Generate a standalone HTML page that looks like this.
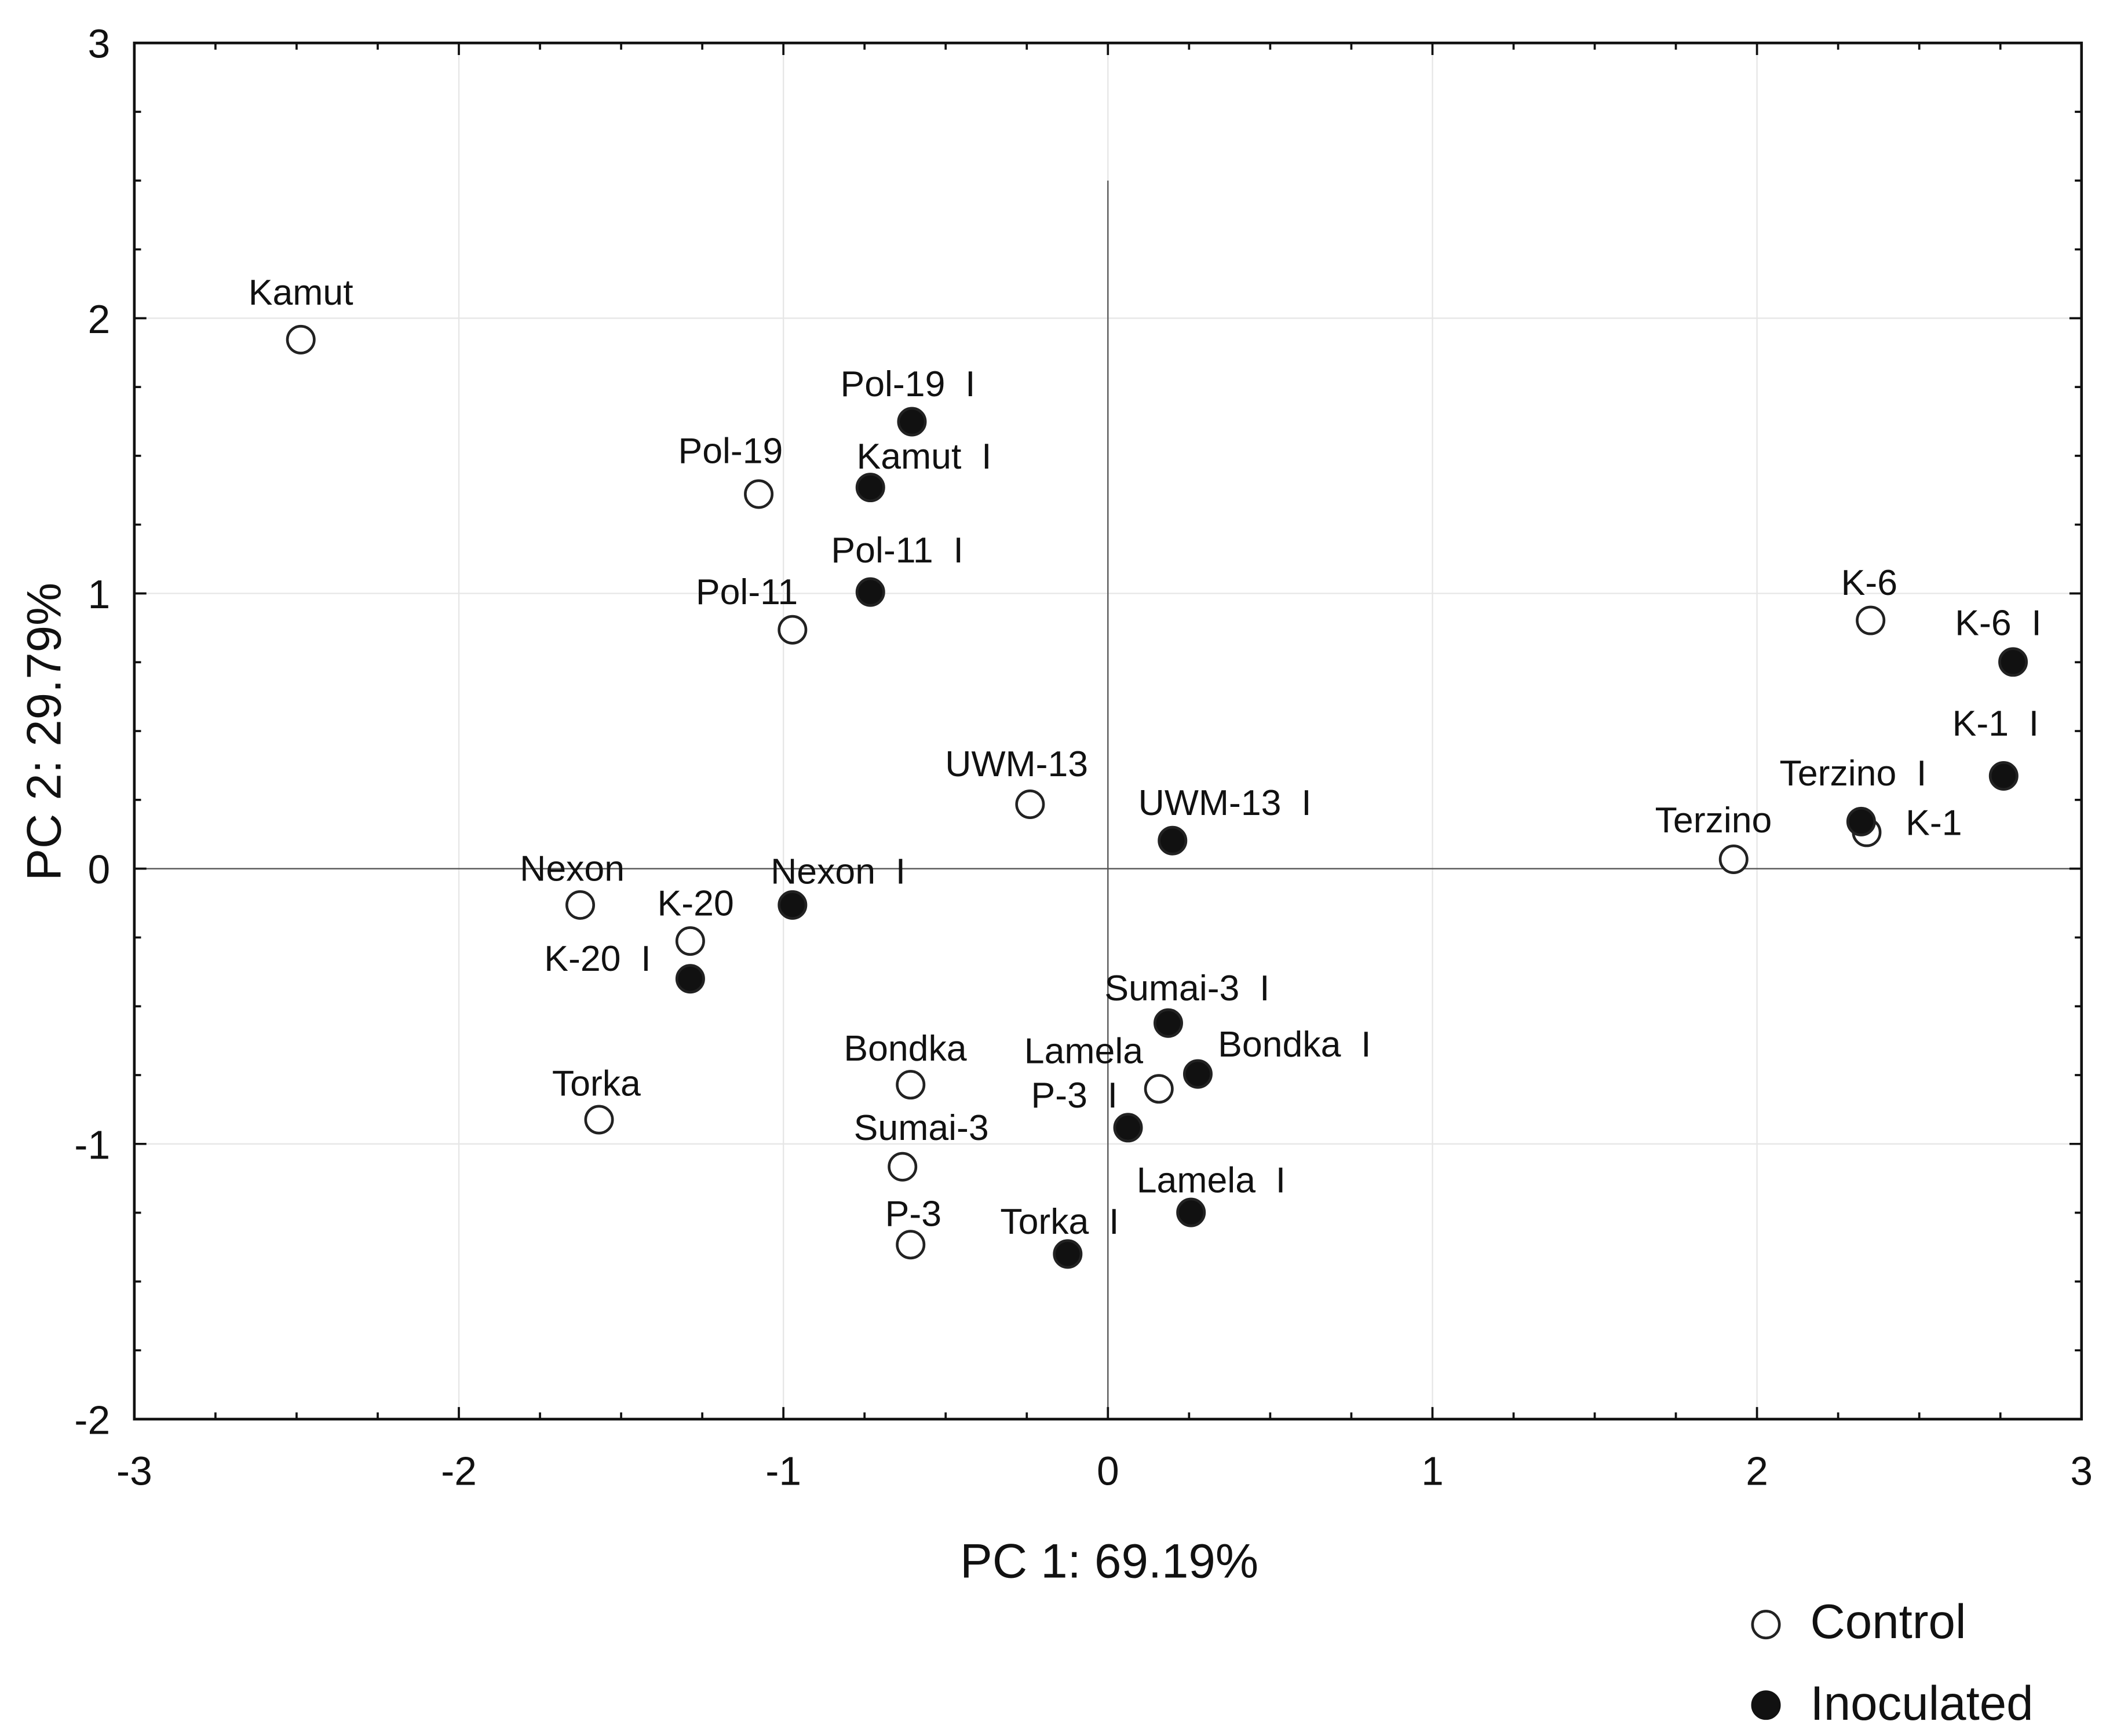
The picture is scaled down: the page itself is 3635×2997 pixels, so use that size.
<!DOCTYPE html>
<html><head><meta charset="utf-8"><style>
html,body{margin:0;padding:0;background:#fff;}
svg{display:block;font-family:"Liberation Sans",sans-serif;}
svg text{white-space:pre;}
</style></head><body>
<svg id="chart" width="3635" height="2997" viewBox="0 0 1568.2 1293" xmlns="http://www.w3.org/2000/svg">
<rect width="1568.2" height="1293" fill="#fff"/>
<g id="grid"></g>
<g id="axes"></g>
<g id="points"></g>
<text x="826" y="1175" font-size="36" text-anchor="middle" fill="#111">PC 1: 69.19%</text>
<text x="0" y="0" font-size="36" text-anchor="middle" fill="#111" transform="translate(45,545) rotate(-90)">PC 2: 29.79%</text>
<g>
<circle cx="1315" cy="1210" r="10" fill="#fff" stroke="#222" stroke-width="2"/>
<text x="1348" y="1220" font-size="36" fill="#111">Control</text>
<circle cx="1315" cy="1270" r="10" fill="#111" stroke="#111" stroke-width="2"/>
<text x="1348" y="1281" font-size="36" fill="#111">Inoculated</text>
</g>
</svg>
<script>
const names = ["Kamut","Pol-19","Pol-11","UWM-13","Nexon","K-20","Torka","Bondka","Sumai-3","P-3","Lamela","Terzino","K-1","K-6",
"Pol-19  I","Kamut  I","Pol-11  I","UWM-13  I","Nexon  I","K-20  I","Sumai-3  I","Bondka  I","P-3  I","Lamela  I","Torka  I","Terzino  I","K-1  I","K-6  I"];
const pc1 = [-2.487,-1.076,-0.972,-0.240,-1.626,-1.287,-1.568,-0.608,-0.633,-0.608,0.157,1.928,2.338,2.350,
-0.604,-0.732,-0.732,0.199,-0.972,-1.287,0.186,0.277,0.062,0.256,-0.124,2.321,2.760,2.789];
const pc2 = [1.922,1.361,0.868,0.234,-0.132,-0.263,-0.912,-0.785,-1.083,-1.366,-0.800,0.034,0.132,0.902,
1.624,1.385,1.005,0.102,-0.132,-0.400,-0.561,-0.746,-0.941,-1.249,-1.400,0.171,0.337,0.751];
const group = ["c","c","c","c","c","c","c","c","c","c","c","c","c","c",
"i","i","i","i","i","i","i","i","i","i","i","i","i","i"];
const xTicks = [-3,-2,-1,0,1,2,3];
const yTicks = [-2,-1,0,1,2,3];
const labDx=[0,-21,-34,-10,-6,4,-2,-4,14,2,-56,-15,50,-1, -3,40,20,39,34,-69,14,72,-40,15,-6,-6,-6,-11];
const labDy=[-35,-32,-28,-30,-27,-28,-27,-27,-29,-23,-28,-29,-7,-28, -28,-23,-31,-28,-25,-15,-26,-22,-24,-24,-24,-36,-39,-29];

const L=100,R=1550,T=32,B=1057;
const X=v=>L+(v+3)/6*(R-L);
const Y=v=>B-(v+2)/5*(B-T);
const NS="http://www.w3.org/2000/svg";
function mk(tag,attrs,parent){const e=document.createElementNS(NS,tag);for(const k in attrs)e.setAttribute(k,attrs[k]);parent.appendChild(e);return e;}
const grid=document.getElementById('grid'),axes=document.getElementById('axes'),pts=document.getElementById('points');
xTicks.forEach(t=>{
  if(t>-3&&t<3){const g=mk('line',{x1:X(t),x2:X(t),y1:T,y2:B,stroke:'#e6e6e6','stroke-width':1},grid);
  
  }
  const tx=mk('text',{x:X(t),y:1106,'font-size':30,'text-anchor':'middle',fill:'#111'},axes);tx.textContent=t;
  
  
});
yTicks.forEach(t=>{
  if(t>-2&&t<3){const g=mk('line',{x1:L,x2:R,y1:Y(t),y2:Y(t),stroke:'#e6e6e6','stroke-width':1},grid);
  
  }
  const tx=mk('text',{x:82,y:Y(t)+11,'font-size':30,'text-anchor':'end',fill:'#111'},axes);tx.textContent=t;
  
  
});
const zh=mk('line',{x1:L,x2:R,y1:Y(0),y2:Y(0),stroke:'#555','stroke-width':1},grid);


const zv=mk('line',{x1:X(0),x2:X(0),y1:Y(2.5),y2:B,stroke:'#555','stroke-width':1},grid);


let d='';
for(let v=-3;v<=3.001;v+=0.25){const maj=Math.abs(v-Math.round(v))<1e-6;const len=maj?9:5;const x=X(v);
  d+=`M${x},${B}v${-len}M${x},${T}v${len}`;}
for(let v=-2;v<=3.001;v+=0.25){const maj=Math.abs(v-Math.round(v))<1e-6;const len=maj?9:5;const y=Y(v);
  d+=`M${L},${y}h${len}M${R},${y}h${-len}`;}
const tk=mk('path',{d:d,stroke:'#111','stroke-width':1.6,fill:'none'},axes);


const fr=mk('rect',{x:L,y:T,width:R-L,height:B-T,fill:'none',stroke:'#111','stroke-width':2},axes);


names.forEach((n,i)=>{
  const cx=X(pc1[i]),cy=Y(pc2[i]);
  const c=mk('circle',{cx:cx,cy:cy,r:10,fill:group[i]==='c'?'#fff':'#111',stroke:'#222','stroke-width':2},pts);
  
  
  const t=mk('text',{x:cx+labDx[i],y:cy+labDy[i]+9,'font-size':27,'text-anchor':'middle',fill:'#111'},pts);
  t.textContent=n;
  
  
});
</script>
</body></html>
